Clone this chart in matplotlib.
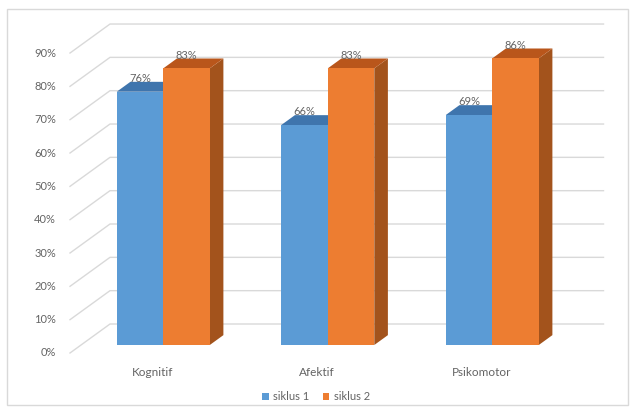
import matplotlib
matplotlib.use('Agg')
import matplotlib.pyplot as plt
from matplotlib.patches import Polygon, Patch, Rectangle

categories = ['Kognitif', 'Afektif', 'Psikomotor']
siklus_1 = [76, 66, 69]
siklus_2 = [83, 83, 86]
series_names = ['siklus 1', 'siklus 2']
y_ticks = [0, 10, 20, 30, 40, 50, 60, 70, 80, 90]

front_colors = ['#5B9BD5', '#ED7D31']
top_colors = ['#3F75AD', '#B9561B']
side_colors = ['#3A6A96', '#A3531C']
grid_color = '#D9D9D9'
text_color = '#646464'

plt.rcParams['font.family'] = ['Lato', 'DejaVu Sans']

W, H = 634, 407
# pixel scale of one category / one percent on the front plane
UX, UY = 164.5, 3.333
# oblique depth of the walls (data units)
DX, DY = 40 / UX, 29 / UY
# bars sit part way into the depth and have their own thickness
FX, FY = 0.276 * DX, 0.276 * DY
BDX, BDY = 0.34 * DX, 0.34 * DY
BW = 46.5 / UX

fig = plt.figure(figsize=(W / 100, H / 100), dpi=100)
left_px, zero_px = 70, 353
ax = fig.add_axes([left_px / W, (H - zero_px) / H,
                   (3 + DX) * UX / W, (90 + DY) * UY / H])
ax.set_xlim(-0.5, 2.5 + DX)
ax.set_ylim(0, 90 + DY)
ax.axis('off')

# side wall + back wall gridlines
for v in y_ticks:
    ax.plot([-0.5, -0.5 + DX, 2.5 + DX], [v, v + DY, v + DY],
            color=grid_color, lw=1.0, zorder=1, clip_on=False)
    ax.annotate(f'{v}%', (-0.5, v), xytext=(-10, 0), textcoords='offset points',
                ha='right', va='center', fontsize=8, color=text_color)

series = [siklus_1, siklus_2]
z = 2
for i, cat in enumerate(categories):
    for s, vals in enumerate(series):
        v = vals[i]
        x0 = i - BW + s * BW + FX
        y0 = FY
        side = Polygon([(x0 + BW, y0), (x0 + BW + BDX, y0 + BDY),
                        (x0 + BW + BDX, y0 + v + BDY), (x0 + BW, y0 + v)],
                       closed=True, fc=side_colors[s], ec='none', zorder=z)
        top = Polygon([(x0, y0 + v), (x0 + BW, y0 + v),
                       (x0 + BW + BDX, y0 + v + BDY), (x0 + BDX, y0 + v + BDY)],
                      closed=True, fc=top_colors[s], ec='none', zorder=z)
        face = Rectangle((x0, y0), BW, v, fc=front_colors[s], ec='none', zorder=z + 0.5)
        for p in (side, top, face):
            ax.add_patch(p)
        ax.annotate(f'{v}%', (x0 + BW / 2, y0 + v + BDY), xytext=(0, 2.5),
                    textcoords='offset points', ha='center', va='center',
                    fontsize=8, color=text_color, zorder=10)
        z += 1
    ax.annotate(cat, (i, 0), xytext=(0, -14), textcoords='offset points',
                ha='center', va='center', fontsize=8.5, color=text_color)

handles = [Patch(fc=front_colors[k], label=series_names[k]) for k in range(2)]
fig.legend(handles=handles, loc='center', bbox_to_anchor=(316 / W, 10 / H),
           ncol=2, frameon=False, fontsize=8, handlelength=0.6, handleheight=0.6,
           columnspacing=1.2, handletextpad=0.4, labelcolor=text_color)

# chart area border
fig.patches.append(Rectangle((7 / W, 2 / H), 621 / W, 396 / H, transform=fig.transFigure,
                             fill=False, ec=grid_color, lw=1.0))

fig.savefig('out.png', dpi=100)
